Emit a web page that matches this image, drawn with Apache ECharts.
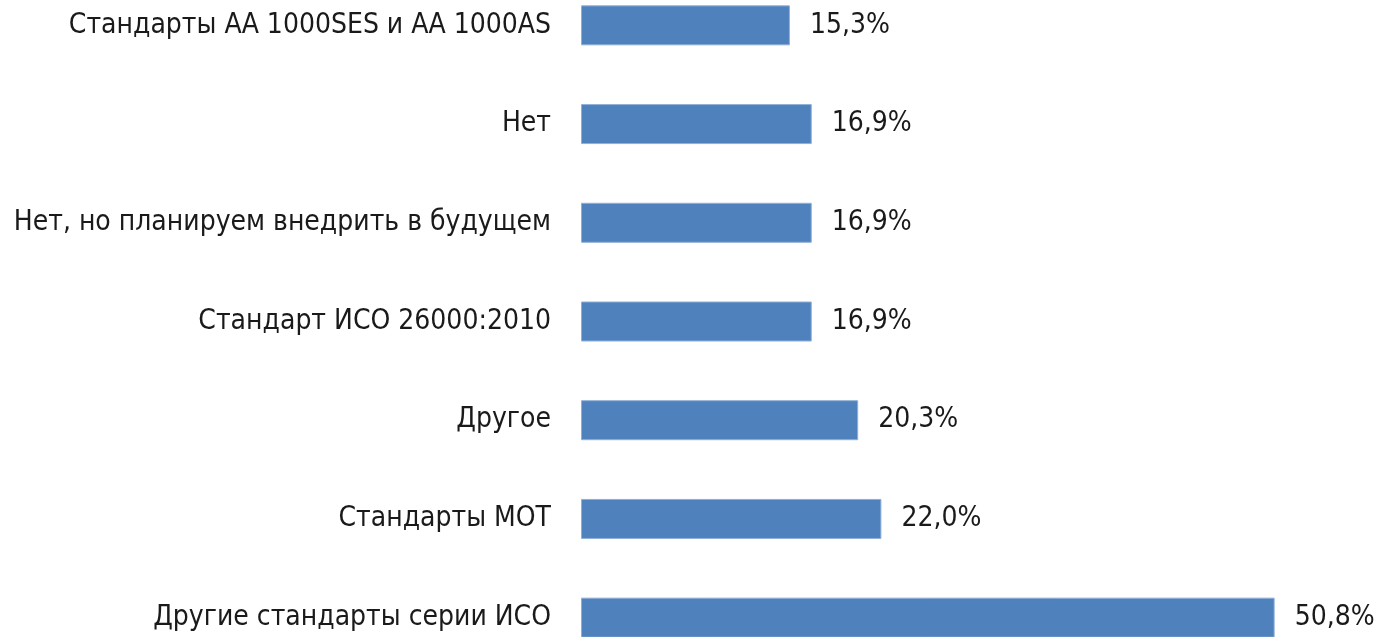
<!DOCTYPE html>
<html>
<head>
<meta charset="utf-8">
<script src="https://cdn.jsdelivr.net/npm/echarts@6/dist/echarts.min.js"></script>
<style>
  html, body { margin: 0; padding: 0; background: #fff; }
  #chart { width: 1381px; height: 637px; }
</style>
</head>
<body>
<div id="chart"></div>
<script>
const categories = [
  "Стандарты АА 1000SES и АА 1000AS",
  "Нет",
  "Нет, но планируем внедрить в будущем",
  "Стандарт ИСО 26000:2010",
  "Другое",
  "Стандарты МОТ",
  "Другие стандарты серии ИСО"
];
const values = [15.3, 16.9, 16.9, 16.9, 20.3, 22.0, 50.8];

const labelFont = '"DejaVu Sans Condensed", "Liberation Sans Narrow", sans-serif';

const chart = echarts.init(document.getElementById("chart"));
chart.setOption({
  animation: false,
  grid: {
    left: 581,
    right: 49,
    top: -24,
    height: 691,
    containLabel: false,
    outerBoundsMode: "none"
  },
  xAxis: {
    type: "value",
    min: 0,
    max: 55,
    show: false
  },
  yAxis: {
    type: "category",
    inverse: true,
    data: categories,
    axisLine: { show: false },
    axisTick: { show: false },
    axisLabel: {
      margin: 30,
      color: "#1a1a1a",
      fontSize: 28,
      fontFamily: labelFont
    }
  },
  series: [
    {
      type: "bar",
      data: values,
      barWidth: 40,
      itemStyle: { color: "#4f81bd", borderColor: "#8fb0d8", borderWidth: 1 },
      label: {
        show: true,
        position: "right",
        distance: 20,
        color: "#1a1a1a",
        fontSize: 28,
        fontFamily: labelFont,
        formatter: (p) => p.value.toFixed(1).replace(".", ",") + "%"
      }
    }
  ]
});
</script>
</body>
</html>
